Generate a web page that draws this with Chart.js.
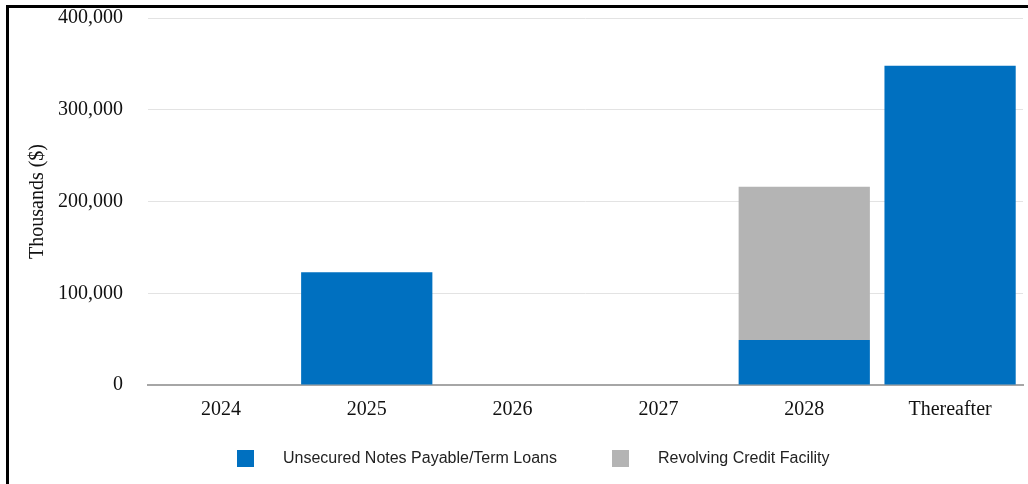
<!DOCTYPE html>
<html>
<head>
<meta charset="utf-8">
<script src="https://cdn.jsdelivr.net/npm/chart.js@4/dist/chart.umd.min.js"></script>
<style>
  html, body { margin: 0; padding: 0; background: #fff; }
  #wrap { position: relative; width: 1028px; height: 484px; overflow: hidden; }
  #c { position: absolute; left: 0; top: -19px; }
  #frame { position: absolute; left: 6px; top: 5px; right: -10px; bottom: -10px;
           border-left: 3px solid #000; border-top: 3px solid #000; pointer-events: none; }
  #legend { position: absolute; left: 237px; top: 449px; display: flex; align-items: center;
            font-family: "Liberation Sans", Arial, sans-serif; font-size: 16px; color: #222; }
  .item { display: flex; align-items: center; }
  .box { width: 17px; height: 17px; margin-right: 29px; }
  .item + .item { margin-left: 55px; }
</style>
</head>
<body>
<div id="wrap">
  <canvas id="c" width="1028" height="503"></canvas>
  <div id="frame"></div>
  <div id="legend"></div>
</div>
<script>
const categories = ['2024', '2025', '2026', '2027', '2028', 'Thereafter'];
const unsecuredNotes = [0, 123000, 0, 0, 49000, 348000];
const revolvingCredit = [0, 0, 0, 0, 167000, 0];
const yTicks = [0, 100000, 200000, 300000, 400000];
const seriesNames = ['Unsecured Notes Payable/Term Loans', 'Revolving Credit Facility'];
const seriesColors = ['#0070c0', '#b4b4b4'];

const serif = '"Liberation Serif", "Times New Roman", serif';

const chart = new Chart(document.getElementById('c'), {
  type: 'bar',
  data: {
    labels: categories,
    datasets: [
      { label: seriesNames[0], data: unsecuredNotes, backgroundColor: seriesColors[0], borderWidth: 0 },
      { label: seriesNames[1], data: revolvingCredit, backgroundColor: seriesColors[1], borderWidth: 0 }
    ]
  },
  options: {
    responsive: false,
    animation: false,
    layout: { padding: { top: 0, right: 5, bottom: 49, left: 0 } },
    datasets: { bar: { categoryPercentage: 0.9, barPercentage: 1.0 } },
    plugins: { legend: { display: false }, tooltip: { enabled: false } },
    scales: {
      x: {
        stacked: true,
        grid: { display: false, drawTicks: false },
        border: { display: true, color: '#a6a6a6', width: 2 },
        ticks: { color: '#111', font: { family: serif, size: 20 }, padding: 13, maxRotation: 0 }
      },
      y: {
        stacked: true,
        min: 0, max: 400000,
        afterBuildTicks: (scale) => { scale.ticks = yTicks.map(v => ({ value: v })); },
        afterFit: (scale) => { scale.width = 148; },
        grid: { color: (ctx) => ctx.tick && ctx.tick.value === 0 ? 'rgba(0,0,0,0)' : '#e3e3e3', lineWidth: 1, drawTicks: false },
        border: { display: false },
        ticks: {
          color: '#111', font: { family: serif, size: 20 }, padding: 25,
          callback: (v) => Number(v).toLocaleString('en-US')
        },
        title: {
          display: true, text: 'Thousands ($)', color: '#111',
          font: { family: serif, size: 20 }, padding: { top: 26, bottom: 0 }
        }
      }
    }
  }
});

const legend = document.getElementById('legend');
chart.data.datasets.forEach(ds => {
  const item = document.createElement('div');
  item.className = 'item';
  const box = document.createElement('span');
  box.className = 'box';
  box.style.background = ds.backgroundColor;
  const txt = document.createElement('span');
  txt.textContent = ds.label;
  item.appendChild(box);
  item.appendChild(txt);
  legend.appendChild(item);
});
</script>
</body>
</html>
